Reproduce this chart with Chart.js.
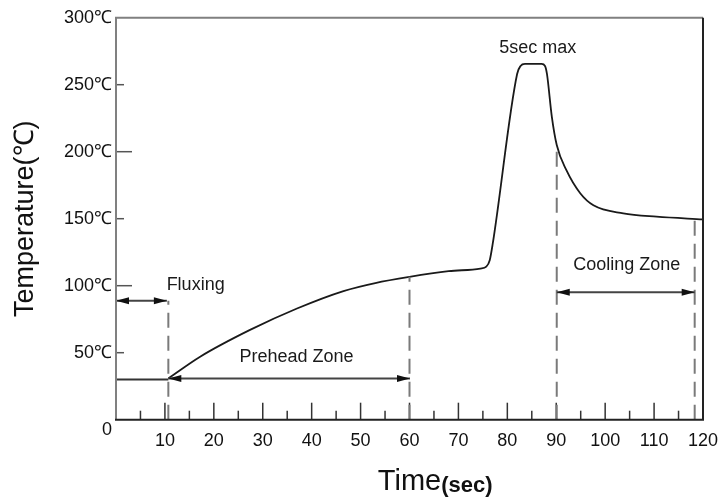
<!DOCTYPE html>
<html><head><meta charset="utf-8">
<script src="https://cdn.jsdelivr.net/npm/chart.js@4.4.1/dist/chart.umd.min.js"></script>
<style>html,body{margin:0;padding:0;background:#fff;}#wrap{width:718px;height:497px;position:relative;}</style>
</head><body><div id="wrap"><canvas id="c"></canvas></div>
<script>
// ---- data ----
const baseTime = [0, 10.7];
const baseTemp = [30, 30];
const profileTime = [10.7, 17.2, 27.4, 37, 46.5, 53, 60, 68, 74.5, 75.7, 76.4, 77.0, 82.0, 82.7, 83.6, 87.0, 87.7, 88.1, 89.1, 90.1, 92.1, 94.9, 97.6, 103.7, 110.5, 120];
const profileTemp = [30.8, 47, 67, 83, 96, 102, 106.6, 110.8, 112.8, 114.2, 119, 131, 258, 264, 265.5, 265.5, 264, 258, 226, 205, 186, 169, 160, 154, 151.5, 149.5];
const xTickValues = [0,10,20,30,40,50,60,70,80,90,100,110,120];
const yTickValues = [0,50,100,150,200,250,300];
const zoneLineTime = [10.7, 60, 90.1, 118.3];
const zoneLineTop = [88.8, 106.6, 205, 149.7];
const zoneArrowStart = [0, 10.7, 90.1];
const zoneArrowEnd = [10.4, 60.1, 118.3];
const zoneArrowTemp = [88.8, 30.8, 95.1];
const labelTexts = ['Fluxing', 'Prehead Zone', '5sec max', 'Cooling Zone'];
const labelTime = [10.35, 36.9, 86.2, 104.4];
const labelTemp = [96.8, 43.4, 273.9, 111.7];
const labelAlign = ['left', 'center', 'center', 'center'];

const FONT = '"Liberation Sans", Arial, sans-serif';

function arrowHead(ctx, tipX, tipY, dir) {
  ctx.beginPath();
  ctx.moveTo(tipX, tipY);
  ctx.lineTo(tipX - dir * 13, tipY - 3.5);
  ctx.lineTo(tipX - dir * 13, tipY + 3.5);
  ctx.closePath();
  ctx.fill();
}

const annot = {
  id: 'annot',
  afterDatasetsDraw(chart) {
    const {ctx, chartArea: a, scales: {x, y}} = chart;
    const X = v => x.getPixelForValue(v), Y = v => y.getPixelForValue(v);
    ctx.save();
    // inward x ticks
    ctx.strokeStyle = '#333'; ctx.lineWidth = 1.5;
    for (let v = 5; v < 120; v += 5) {
      const len = v % 10 === 0 ? 17 : 9;
      ctx.beginPath(); ctx.moveTo(X(v), a.bottom); ctx.lineTo(X(v), a.bottom - len); ctx.stroke();
    }
    // inward y ticks
    ctx.strokeStyle = '#555';
    for (let v = 50; v < 300; v += 50) {
      const len = v % 100 === 0 ? 16 : 8;
      ctx.beginPath(); ctx.moveTo(a.left, Y(v)); ctx.lineTo(a.left + len, Y(v)); ctx.stroke();
    }
    // dashed zone lines
    ctx.strokeStyle = '#7a7a7a'; ctx.lineWidth = 2; ctx.setLineDash([15, 8]);
    zoneLineTime.forEach((t, i) => {
      ctx.beginPath(); ctx.moveTo(X(t), a.bottom); ctx.lineTo(X(t), Y(zoneLineTop[i])); ctx.stroke();
    });
    ctx.setLineDash([]);
    // arrows
    ctx.strokeStyle = '#444'; ctx.fillStyle = '#111'; ctx.lineWidth = 2;
    zoneArrowStart.forEach((t, i) => {
      const x0 = X(t), x1 = X(zoneArrowEnd[i]), yy = Y(zoneArrowTemp[i]);
      ctx.beginPath(); ctx.moveTo(x0, yy); ctx.lineTo(x1, yy); ctx.stroke();
      arrowHead(ctx, x0, yy, -1);
      arrowHead(ctx, x1, yy, 1);
    });
    // frame
    ctx.lineWidth = 2;
    ctx.strokeStyle = '#808080';
    ctx.beginPath(); ctx.moveTo(a.left, a.bottom); ctx.lineTo(a.left, a.top); ctx.lineTo(a.right, a.top); ctx.stroke();
    ctx.strokeStyle = '#222';
    ctx.beginPath(); ctx.moveTo(a.left - 1, a.bottom); ctx.lineTo(a.right, a.bottom); ctx.lineTo(a.right, a.top); ctx.stroke();
    // labels
    ctx.fillStyle = '#1a1a1a'; ctx.font = '18px ' + FONT; ctx.textBaseline = 'alphabetic';
    labelTexts.forEach((s, i) => {
      ctx.textAlign = labelAlign[i];
      ctx.fillText(s, X(labelTime[i]), Y(labelTemp[i]));
    });
    ctx.restore();
  },
  afterDraw(chart) {
    const {ctx, scales: {x}} = chart;
    ctx.save();
    ctx.font = '29px ' + FONT;
    const w = ctx.measureText('Time').width;
    const cx = (x.left + x.right) / 2;
    ctx.font = 'bold 22px ' + FONT;
    ctx.fillStyle = '#111'; ctx.textAlign = 'left'; ctx.textBaseline = 'alphabetic';
    ctx.fillText('(sec)', cx + w / 2, 491.5);
    ctx.restore();
  }
};

new Chart(document.getElementById('c'), {
  type: 'line',
  data: {
    datasets: [
      { label: 'base', data: baseTime.map((t, i) => ({x: t, y: baseTemp[i]})), borderColor: '#333', borderWidth: 2, pointRadius: 0, tension: 0 },
      { label: 'profile', data: profileTime.map((t, i) => ({x: t, y: profileTemp[i]})), borderColor: '#1a1a1a', borderWidth: 1.8, pointRadius: 0, cubicInterpolationMode: 'monotone', tension: 0.4 }
    ]
  },
  options: {
    responsive: true, maintainAspectRatio: false, animation: false, devicePixelRatio: 1,
    layout: { padding: { top: 17.7, right: 15, left: 0, bottom: 0 } },
    plugins: { legend: { display: false }, tooltip: { enabled: false } },
    scales: {
      x: {
        type: 'linear', min: 0, max: 120,
        afterBuildTicks: s => { s.ticks = xTickValues.map(v => ({value: v})); },
        afterFit: s => { s.height = 77.3; s.paddingLeft = 0; s.paddingRight = 0; },
        grid: { display: false, drawTicks: false }, border: { display: false },
        ticks: { callback: v => v === 0 ? '' : String(v), font: { size: 18, family: FONT }, color: '#111', padding: 11, maxRotation: 0, autoSkip: false },
        title: { display: true, text: 'Time', font: { size: 29, family: FONT, lineHeight: 1 }, color: '#111', padding: { top: 0, bottom: 1 } }
      },
      y: {
        min: 0, max: 300,
        afterBuildTicks: s => { s.ticks = yTickValues.map(v => ({value: v})); },
        afterFit: s => { s.width = 116; s.paddingTop = 0; s.paddingBottom = 0; },
        grid: { display: false, drawTicks: false }, border: { display: false },
        ticks: { callback: v => v === 0 ? ['', '0'] : v + '℃', font: { size: 18, family: FONT }, color: '#111', padding: 4, autoSkip: false },
        title: { display: true, text: 'Temperature(℃)', font: { size: 27, family: FONT }, color: '#111', padding: { top: 9, bottom: 0 } }
      }
    }
  },
  plugins: [annot]
});
</script></body></html>
